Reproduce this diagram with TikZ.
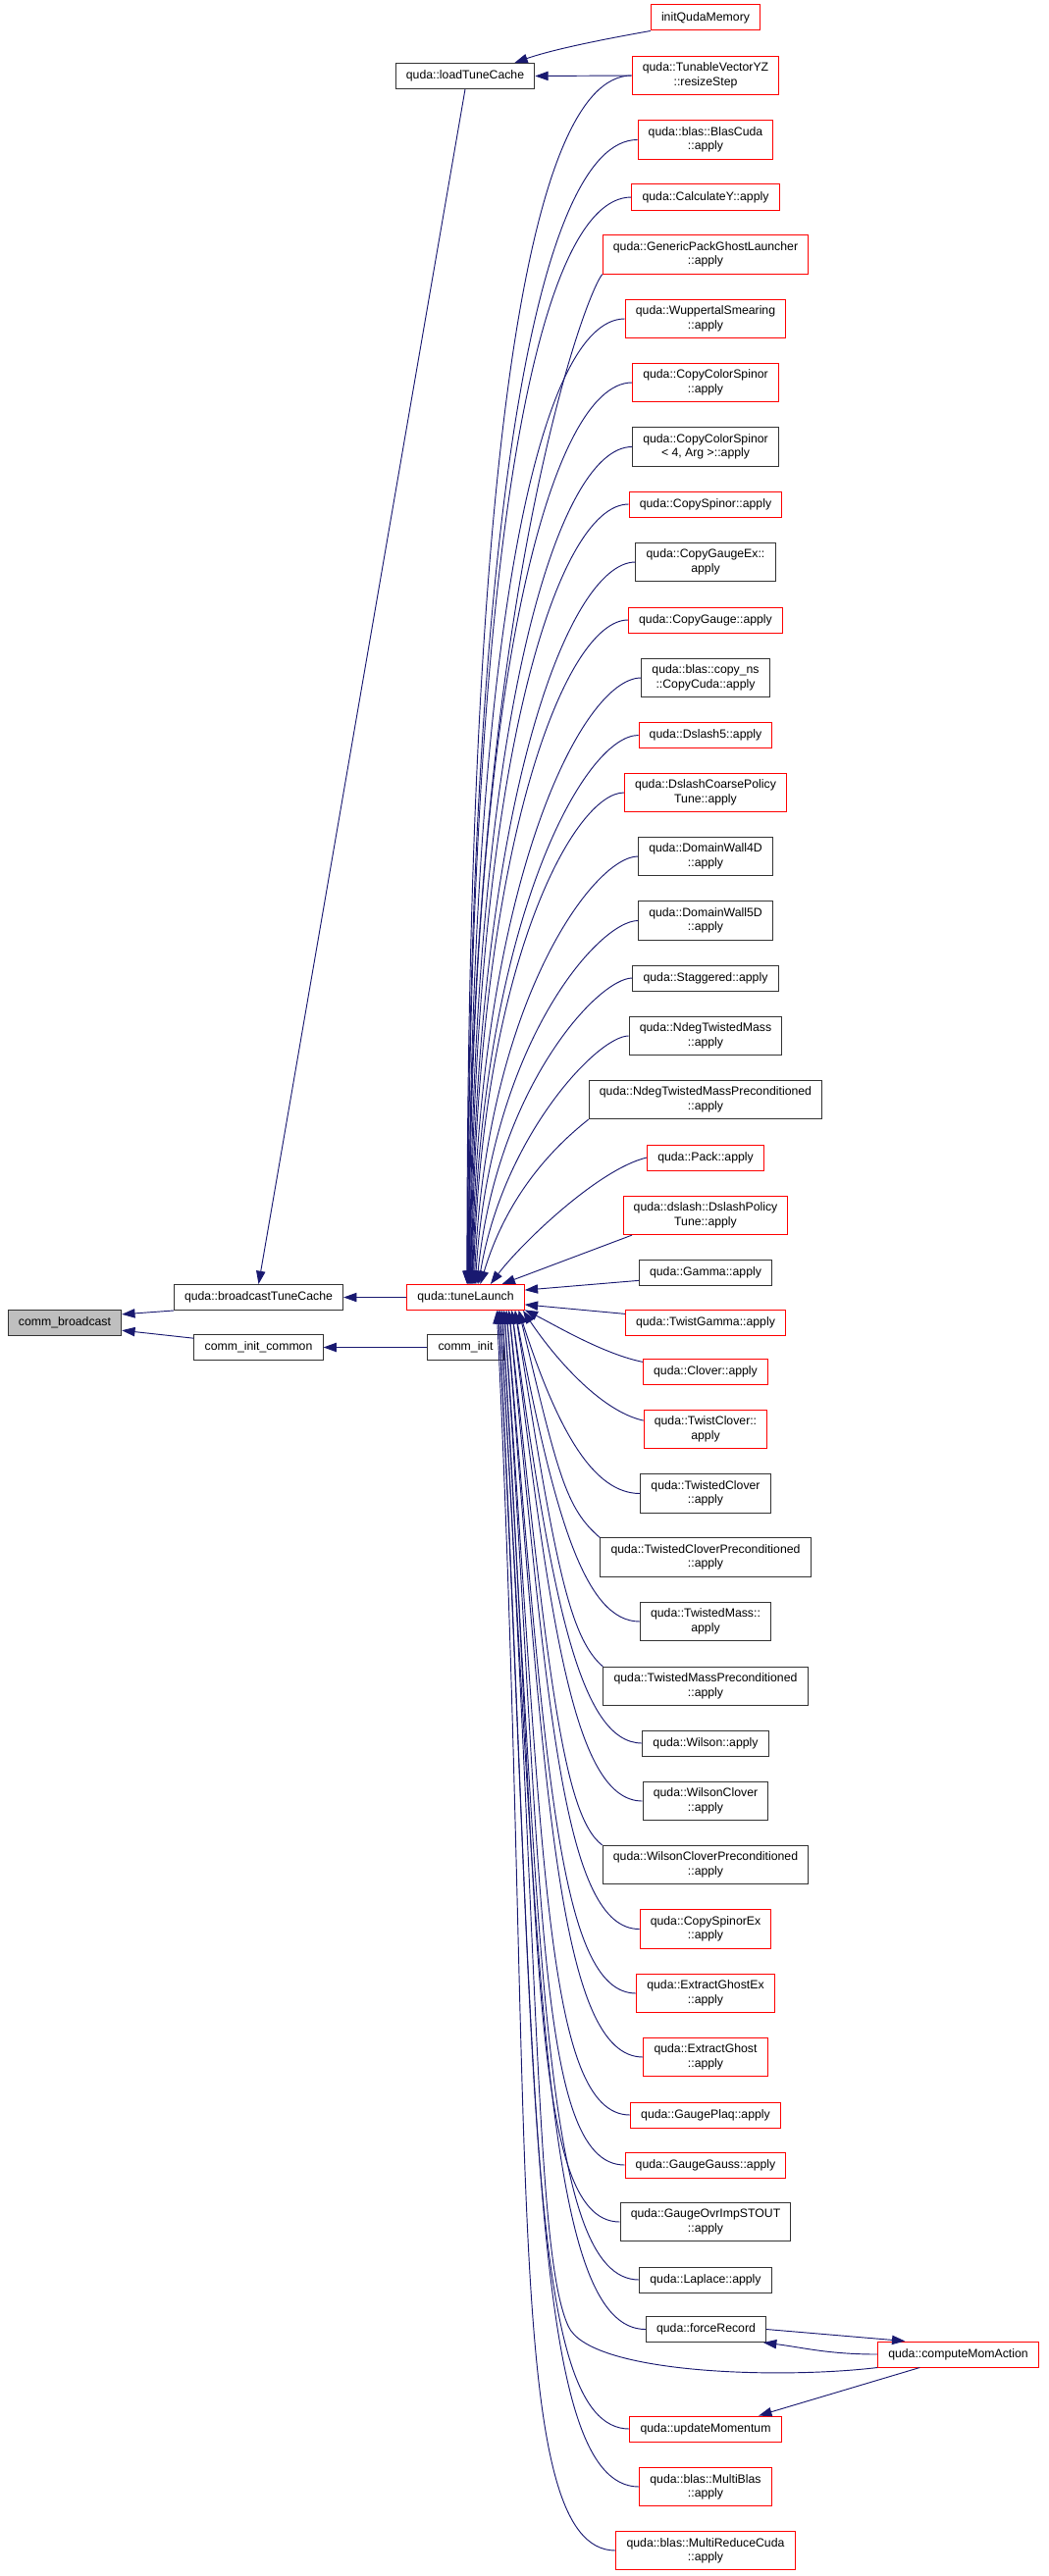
\documentclass[tikz,border=0pt]{standalone}
\usepackage{fontspec}
\setmainfont{Liberation Sans}
\usetikzlibrary{arrows.meta}
\definecolor{edgeblue}{HTML}{191970}
\tikzset{
	fnbox/.style={draw=black!80, fill=white, line width=0.75pt, align=center, font=\fontsize{9.2}{10.8}\selectfont, inner xsep=8pt, inner ysep=5pt, minimum height=19.5pt},
	fnred/.style={fnbox, draw=red},
	fnsel/.style={fnbox, fill=black!25},
	call/.style={draw=edgeblue, line width=0.7pt, arrows={Triangle[length=10pt, width=7pt]-}}
}

\begin{document}
\begin{tikzpicture}[x=0.75pt, y=0.75pt]
			%%%%% START %%%%%
			
			\useasboundingbox (0, 0) rectangle (1068, -2626);
			
			\node[fnsel] (cb) at (66, -1348) {comm\_broadcast};
			\node[fnbox] (btc) at (263.5, -1322.5) {quda::broadcastTuneCache};
			\node[fnbox] (cic) at (263.5, -1373.5) {comm\_init\_common};
			\node[fnred] (tune) at (474.5, -1322.5) {quda::tuneLaunch};
			\node[fnbox] (ci) at (474.5, -1373.5) {comm\_init};
			\node[fnbox] (ltc) at (474, -77.5) {quda::loadTuneCache};
			
			\node[fnred] (iqm) at (719, -18) {initQudaMemory};
			\node[fnred] (tvyz) at (719, -77) {quda::TunableVectorYZ\\::resizeStep};
			\node[fnred] (bcuda) at (719, -142.5) {quda::blas::BlasCuda\\::apply};
			\node[fnred] (calcy) at (719, -201) {quda::CalculateY::apply};
			\node[fnred] (gpgl) at (719, -259.5) {quda::GenericPackGhostLauncher\\::apply};
			\node[fnred] (wupp) at (719, -325) {quda::WuppertalSmearing\\::apply};
			\node[fnred] (ccs) at (719, -390) {quda::CopyColorSpinor\\::apply};
			\node[fnbox] (ccsf) at (719, -455.5) {quda::CopyColorSpinor\\< 4, Arg >::apply};
			\node[fnred] (cspin) at (719, -514) {quda::CopySpinor::apply};
			\node[fnbox] (cgex) at (719, -573) {quda::CopyGaugeEx::\\apply};
			\node[fnred] (cgauge) at (719, -632) {quda::CopyGauge::apply};
			\node[fnbox] (copyns) at (719, -691) {quda::blas::copy\_ns\\::CopyCuda::apply};
			\node[fnred] (dsl5) at (719, -749.5) {quda::Dslash5::apply};
			\node[fnred] (dcpt) at (719, -808) {quda::DslashCoarsePolicy\\Tune::apply};
			\node[fnbox] (dwf) at (719, -873) {quda::DomainWall4D\\::apply};
			\node[fnbox] (dwv) at (719, -938.5) {quda::DomainWall5D\\::apply};
			\node[fnbox] (stag) at (719, -997) {quda::Staggered::apply};
			\node[fnbox] (ntm) at (719, -1056) {quda::NdegTwistedMass\\::apply};
			\node[fnbox] (ntmp) at (719, -1121) {quda::NdegTwistedMassPreconditioned\\::apply};
			\node[fnred] (pack) at (719, -1180) {quda::Pack::apply};
			\node[fnred] (dpt) at (719, -1239) {quda::dslash::DslashPolicy\\Tune::apply};
			\node[fnbox] (gamma) at (719, -1297) {quda::Gamma::apply};
			\node[fnred] (tgamma) at (719, -1348) {quda::TwistGamma::apply};
			\node[fnred] (clover) at (719, -1398.5) {quda::Clover::apply};
			\node[fnred] (tclover) at (719, -1457) {quda::TwistClover::\\apply};
			\node[fnbox] (twcl) at (719, -1522.5) {quda::TwistedClover\\::apply};
			\node[fnbox] (twclp) at (719, -1587.5) {quda::TwistedCloverPreconditioned\\::apply};
			\node[fnbox] (tm) at (719, -1653) {quda::TwistedMass::\\apply};
			\node[fnbox] (tmp) at (719, -1719) {quda::TwistedMassPreconditioned\\::apply};
			\node[fnbox] (wil) at (719, -1777) {quda::Wilson::apply};
			\node[fnbox] (wc) at (719, -1836) {quda::WilsonClover\\::apply};
			\node[fnbox] (wcp) at (719, -1901) {quda::WilsonCloverPreconditioned\\::apply};
			\node[fnred] (csex) at (719, -1966.5) {quda::CopySpinorEx\\::apply};
			\node[fnred] (egex) at (719, -2032) {quda::ExtractGhostEx\\::apply};
			\node[fnred] (eg) at (719, -2097) {quda::ExtractGhost\\::apply};
			\node[fnred] (gplaq) at (719, -2156) {quda::GaugePlaq::apply};
			\node[fnred] (ggauss) at (719, -2207) {quda::GaugeGauss::apply};
			\node[fnbox] (gstout) at (719, -2265) {quda::GaugeOvrImpSTOUT\\::apply};
			\node[fnbox] (lapl) at (719, -2324) {quda::Laplace::apply};
			\node[fnbox] (frec) at (719.5, -2374.5) {quda::forceRecord};
			\node[fnred] (cma) at (976.5, -2400) {quda::computeMomAction};
			\node[fnred] (um) at (719, -2476) {quda::updateMomentum};
			\node[fnred] (mblas) at (719, -2535) {quda::blas::MultiBlas\\::apply};
			\node[fnred] (mrc) at (719, -2600) {quda::blas::MultiReduceCuda\\::apply};
			
			\draw[call] (cb.8) -- (btc.south west);
			\draw[call] (cb.-8) -- (cic.172);
			\draw[call] (cic.east) -- (ci.west);
			\draw[call] (btc.east) -- (tune.west);
			\draw[call] (btc.north) -- (ltc.south);
			\draw[call] (ltc.east) -- (tvyz.west);
			\draw[call] (ltc.15) .. controls +(40, 14) and +(-45, -8) .. (iqm.south west);
			
			\draw[call] (tune.84) .. controls +(0, 814) and +(-109, 0) .. (tvyz.west);
			\draw[call] (tune.82) .. controls +(0, 771) and +(-103, 0) .. (bcuda.west);
			\draw[call] (tune.80) .. controls +(0, 732) and +(-99, 0) .. (calcy.west);
			\draw[call] (tune.78) .. controls +(0, 680) and +(-20, -25) .. (gpgl.south west);
			\draw[call] (tune.76) .. controls +(0, 650) and +(-89, 0) .. (wupp.west);
			\draw[call] (tune.74) .. controls +(0, 607) and +(-84, 0) .. (ccs.west);
			\draw[call] (tune.72) .. controls +(2, 564) and +(-78, 0) .. (ccsf.west);
			\draw[call] (tune.70) .. controls +(3, 525) and +(-74, 0) .. (cspin.west);
			\draw[call] (tune.68) .. controls +(4, 486) and +(-69, 0) .. (cgex.west);
			\draw[call] (tune.66) .. controls +(5, 447) and +(-64, 0) .. (cgauge.west);
			\draw[call] (tune.64) .. controls +(6, 409) and +(-60, 0) .. (copyns.west);
			\draw[call] (tune.62) .. controls +(8, 370) and +(-55, 0) .. (dsl5.west);
			\draw[call] (tune.60) .. controls +(10, 331) and +(-50, 0) .. (dcpt.west);
			\draw[call] (tune.57) .. controls +(12, 288) and +(-45, 0) .. (dwf.west);
			\draw[call] (tune.54) .. controls +(15, 245) and +(-40, 0) .. (dwv.west);
			\draw[call] (tune.50) .. controls +(20, 200) and +(-35, 0) .. (stag.west);
			\draw[call] (tune.46) .. controls +(25, 150) and +(-32, 0) .. (ntm.west);
			\draw[call] (tune.42) .. controls +(30, 100) and +(-25, -20) .. (ntmp.south west);
			\draw[call] (tune.28) .. controls +(30, 40) and +(-50, -12) .. (pack.west);
			\draw[call] (tune.20) -- (dpt.195);
			\draw[call] (tune.7) -- (gamma.187);
			\draw[call] (tune.-7) -- (tgamma.174);
			\draw[call] (tune.-12) .. controls +(30, -15) and +(-40, 8) .. (clover.171);
			\draw[call] (tune.-13) .. controls +(30, -45) and +(-45, 10) .. (tclover.172);
			\draw[call] (tune.-14) .. controls +(40, -124) and +(-47, 0) .. (twcl.west);
			\draw[call] (tune.-14) .. controls +(40, -167) and +(-35, 30) .. (twclp.north west);
			\draw[call] (tune.-15) .. controls +(40, -210) and +(-56, 0) .. (tm.west);
			\draw[call] (tune.-15) .. controls +(40, -253) and +(-35, 30) .. (tmp.north west);
			\draw[call] (tune.-16) .. controls +(40, -292) and +(-64, 0) .. (wil.west);
			\draw[call] (tune.-16) .. controls +(40, -331) and +(-68, 0) .. (wc.west);
			\draw[call] (tune.-17) .. controls +(40, -374) and +(-40, 30) .. (wcp.north west);
			\draw[call] (tune.-17) .. controls +(40, -417) and +(-76, 0) .. (csex.west);
			\draw[call] (tune.-18) .. controls +(40, -460) and +(-80, 0) .. (egex.west);
			\draw[call] (tune.-18) .. controls +(40, -503) and +(-85, 0) .. (eg.west);
			\draw[call] (tune.-19) .. controls +(40, -542) and +(-88, 0) .. (gplaq.west);
			\draw[call] (tune.-19) .. controls +(40, -576) and +(-92, 0) .. (ggauss.west);
			\draw[call] (tune.-20) .. controls +(40, -614) and +(-95, 0) .. (gstout.west);
			\draw[call] (tune.-20) .. controls +(40, -653) and +(-99, 0) .. (lapl.west);
			\draw[call] (tune.-21) .. controls +(40, -686) and +(-103, 0) .. (frec.west);
			\draw[call] (tune.-22) .. controls +(40, -753) and +(-109, 0) .. (um.west);
			\draw[call] (tune.-22) .. controls +(40, -792) and +(-113, 0) .. (mblas.west);
			\draw[call] (tune.-23) .. controls +(40, -835) and +(-117, 0) .. (mrc.west);
			
			\coordinate (cmabend) at (579, -2371);
			\draw[call] (tune.-21) .. controls +(40, -680) and +(-33, 73) .. (cmabend) .. controls +(21, -49) and +(-100, -12) .. (cma.south west);
			\draw[call] (cma.166) -- (frec.east);
			\draw[call] (frec.-13) .. controls +(40, -5) and +(-50, 0) .. (cma.west);
			\draw[call] (um.14) -- (cma.199);
			
			%%%%% END %%%%%
\end{tikzpicture}
\end{document}
